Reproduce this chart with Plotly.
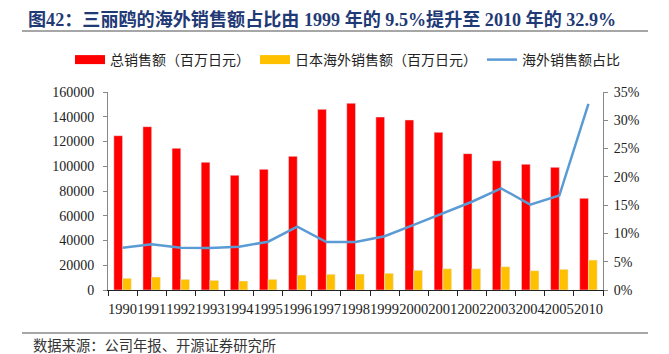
import plotly.graph_objects as go

years = ["1990", "1991", "1992", "1993", "1994", "1995", "1996", "1997", "1998",
         "1999", "2000", "2001", "2002", "2003", "2004", "2005", "2010"]
total_sales = [124700, 132000, 114500, 103200, 92700, 97500, 108000, 146000, 150900,
               139800, 137400, 127400, 110200, 104500, 101600, 99100, 74100]
overseas_sales = [9450, 10500, 8600, 7800, 7300, 8600, 12100, 12700, 12900,
                  13500, 15900, 17200, 17200, 18800, 15600, 16700, 24200]
overseas_ratio = [0.0748, 0.0807, 0.0748, 0.0742, 0.0766, 0.0854, 0.112, 0.0848, 0.0848,
                  0.095, 0.115, 0.1355, 0.156, 0.1797, 0.151, 0.167, 0.329]

name_total = "总销售额（百万日元）"
name_overseas = "日本海外销售额（百万日元）"
name_ratio = "海外销售额占比"
title_text = "图42：三丽鸥的海外销售额占比由 1999 年的 9.5%提升至 2010 年的 32.9%"
source_text = "数据来源：公司年报、开源证券研究所"

RED = "#FF0000"
YEL = "#FFC000"
BLUE = "#5B9BD5"
SERIF = "Liberation Serif, Noto Sans CJK SC"
CJK = "Noto Sans CJK SC"

fig = go.Figure()
fig.add_trace(go.Bar(x=years, y=total_sales, name=name_total, marker_color=RED,
                     showlegend=False))
fig.add_trace(go.Bar(x=years, y=overseas_sales, name=name_overseas, marker_color=YEL,
                     showlegend=False))
fig.add_trace(go.Scatter(x=years, y=overseas_ratio, name=name_ratio, yaxis="y2",
                         mode="lines", line=dict(color=BLUE, width=2.5),
                         showlegend=False))
# legend entries (wide rectangles like the original)
fig.add_trace(go.Scatter(x=[None], y=[None], mode="lines", name=name_total,
                         line=dict(color=RED, width=9)))
fig.add_trace(go.Scatter(x=[None], y=[None], mode="lines", name=name_overseas,
                         line=dict(color=YEL, width=9)))
fig.add_trace(go.Scatter(x=[None], y=[None], mode="lines", name=name_ratio,
                         line=dict(color=BLUE, width=2.5)))

L, R, T, B = 108, 66, 92, 64
W, H = 669, 354
pw = W - L - R
ph = H - T - B

def px(x):
    return (x - L) / pw

def py(y):
    return (H - B - y) / ph

fig.update_layout(
    width=W, height=H,
    margin=dict(l=L, r=R, t=T, b=B),
    paper_bgcolor="white", plot_bgcolor="white",
    barmode="group", bargap=0.4, bargroupgap=0,
    title=dict(text=title_text, xref="container", x=28 / W, xanchor="left",
               yref="container", y=1 - 20 / H, yanchor="middle",
               font=dict(family=SERIF, size=18.1, color="#1F3A75", weight="bold")),
    legend=dict(orientation="h", x=px(70), xanchor="left", y=py(60), yanchor="middle",
                font=dict(family=CJK, size=14, color="#222222"),
                bgcolor="rgba(0,0,0,0)", itemwidth=30, tracegroupgap=0),
    xaxis=dict(type="category", showline=True, linecolor="#222222", linewidth=1,
               ticks="outside", tickson="boundaries", ticklen=5, tickcolor="#222222",
               tickmode="linear", dtick=1, tickangle=0, ticklabelstandoff=6,
               tickfont=dict(family=SERIF, size=14.5, color="#222222"),
               showgrid=False, zeroline=False, fixedrange=True),
    yaxis=dict(range=[0, 160000], dtick=20000, tickformat="d", showline=True,
               linecolor="#888888", linewidth=1, ticks="outside", ticklen=4,
               tickcolor="#888888", tickfont=dict(family=SERIF, size=14, color="#222222"),
               showgrid=False, zeroline=False, ticklabelstandoff=6),
    yaxis2=dict(range=[0, 0.35], dtick=0.05, tickformat=".0%", overlaying="y",
                side="right", showline=True, linecolor="#888888", linewidth=1,
                ticks="outside", ticklen=4, tickcolor="#888888",
                tickfont=dict(family=SERIF, size=14, color="#222222"),
                showgrid=False, zeroline=False, ticklabelstandoff=3),
    shapes=[
        dict(type="line", xref="paper", yref="paper", x0=px(22), x1=px(648),
             y0=py(31), y1=py(31), line=dict(color="#888888", width=1.5)),
        dict(type="line", xref="paper", yref="paper", x0=px(22), x1=px(648),
             y0=py(333), y1=py(333), line=dict(color="#888888", width=1.5)),
    ],
    annotations=[
        dict(text=source_text, xref="paper", yref="paper", x=px(31), y=py(346),
             xanchor="left", yanchor="middle", showarrow=False,
             font=dict(family=SERIF, size=14.3, color="#333333")),
    ],
)

fig.write_html("out.html")
